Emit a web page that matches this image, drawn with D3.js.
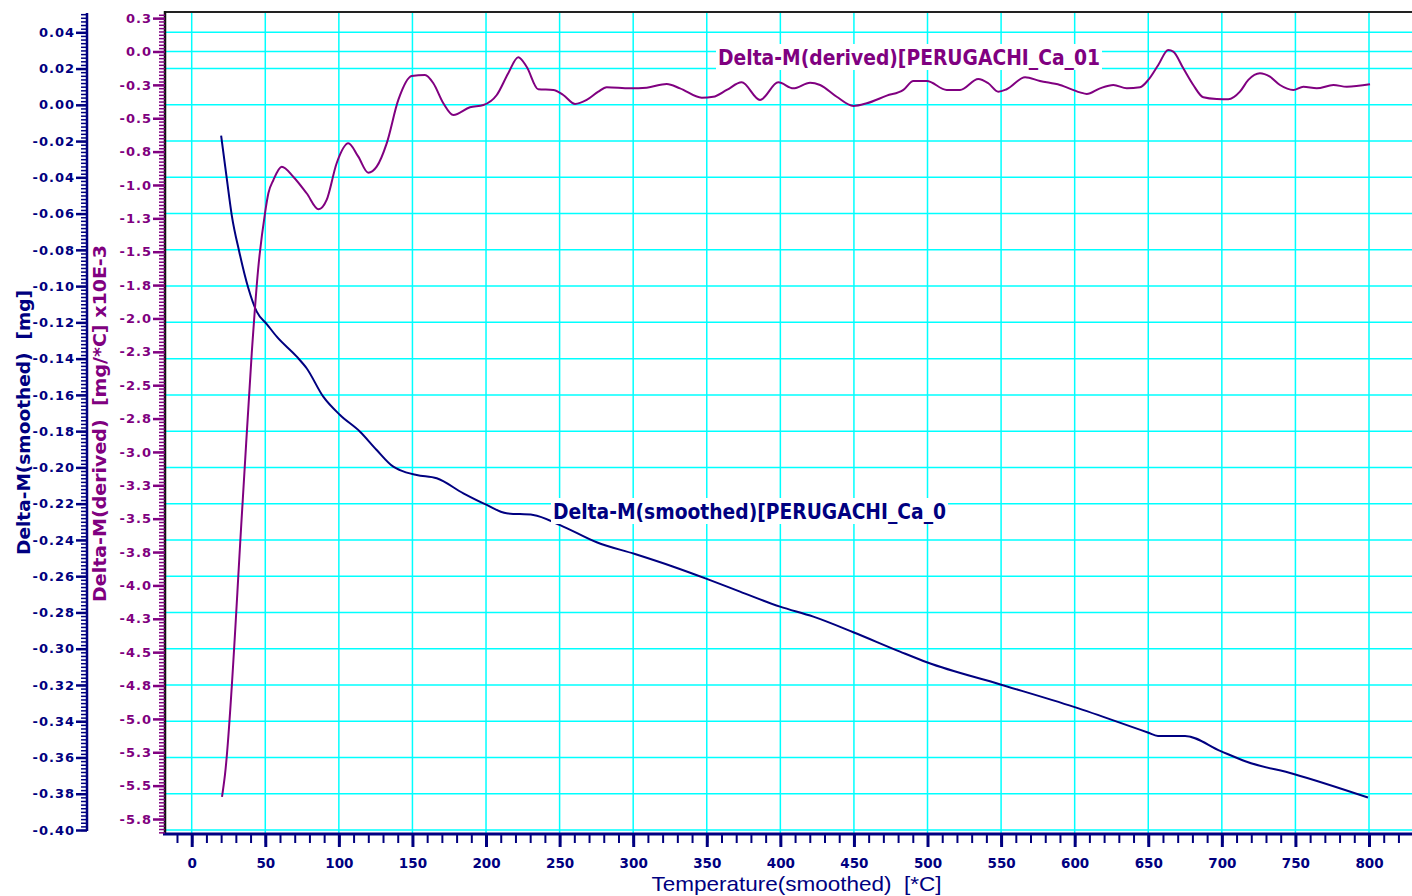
<!DOCTYPE html>
<html>
<head>
<meta charset="utf-8">
<script src="https://cdn.jsdelivr.net/npm/d3@7"></script>
<style>
  body { margin: 0; background: #fff; }
  svg { display: block; }
  text.pre { white-space: pre; }
</style>
</head>
<body>
<div id="chart"></div>
<script>
// Delta-M(smoothed) [mg] against temperature
const tempSmoothed = [20, 23.8, 27.2, 32.3, 38.5, 44.2, 51, 57.8, 71.4, 78.1, 89.4, 100.8, 114.4, 125.7, 137, 141.5, 152.9, 166.5, 184.6, 200.5, 214, 232.1, 250.3, 275.2, 301.2, 327.3, 350, 372.6, 399.8, 422.4, 449.6, 481.3, 500, 549.5, 599.5, 649.7, 656.6, 675, 699.2, 716.4, 748.8, 799.3];
const massSmoothed = [-0.0170, -0.0405, -0.0608, -0.0810, -0.1012, -0.1141, -0.1209, -0.1279, -0.1389, -0.1453, -0.1610, -0.1711, -0.1803, -0.1904, -0.1996, -0.2015, -0.2042, -0.2060, -0.2143, -0.2207, -0.2253, -0.2262, -0.2318, -0.2413, -0.2478, -0.2548, -0.2615, -0.2685, -0.2768, -0.2823, -0.2909, -0.3016, -0.3076, -0.3197, -0.3321, -0.3462, -0.3481, -0.3481, -0.3565, -0.3622, -0.3691, -0.3821];

// Delta-M(derived) [mg/*C] x10E-3 against temperature
const tempDerived = [20.6, 22.6, 34.7, 40.8, 45.1, 49.8, 52.1, 55.5, 61.2, 69.0, 78.1, 86.2, 91.7, 98.5, 106.4, 113.2, 120.0, 125.7, 132.5, 140.4, 149.5, 158.5, 164.2, 171.0, 177.8, 189.1, 198.2, 207.3, 215.1, 221.9, 227.6, 235.5, 245.7, 252.5, 260.5, 268.4, 276.3, 282.0, 297.8, 309.2, 322.8, 331.8, 346.6, 354.4, 363.6, 373.7, 386.2, 398.6, 408.8, 420.2, 427.0, 438.3, 449.6, 458.7, 472.3, 483.6, 490.4, 499.5, 513.1, 522.1, 534.5, 541.3, 548.1, 553.8, 566.3, 576.4, 590.0, 603.6, 608.2, 617.2, 626.3, 635.4, 644.4, 650.0, 656.8, 663.6, 667.0, 673.8, 680.6, 687.4, 696.5, 704.4, 712.3, 718.0, 725.9, 732.7, 739.5, 748.6, 755.4, 764.5, 775.8, 784.9, 800.7];
const massDerived = [-5.584, -5.419, -3.360, -2.261, -1.637, -1.212, -1.062, -0.963, -0.863, -0.938, -1.062, -1.182, -1.112, -0.837, -0.688, -0.788, -0.908, -0.863, -0.688, -0.363, -0.184, -0.176, -0.238, -0.388, -0.476, -0.418, -0.401, -0.326, -0.163, -0.043, -0.114, -0.283, -0.288, -0.326, -0.393, -0.363, -0.301, -0.268, -0.276, -0.271, -0.243, -0.276, -0.346, -0.339, -0.288, -0.231, -0.363, -0.231, -0.276, -0.234, -0.251, -0.339, -0.408, -0.388, -0.331, -0.288, -0.221, -0.221, -0.288, -0.288, -0.206, -0.238, -0.301, -0.283, -0.193, -0.221, -0.251, -0.306, -0.318, -0.276, -0.251, -0.276, -0.268, -0.213, -0.101, 0.011, -0.001, -0.126, -0.251, -0.343, -0.356, -0.358, -0.301, -0.213, -0.163, -0.189, -0.251, -0.288, -0.264, -0.276, -0.251, -0.264, -0.246];

// Tick values and labels
const xTicks = [0, 50, 100, 150, 200, 250, 300, 350, 400, 450, 500, 550, 600, 650, 700, 750, 800];
const leftTicks = [0.04, 0.02, 0.00, -0.02, -0.04, -0.06, -0.08, -0.10, -0.12, -0.14, -0.16, -0.18, -0.20, -0.22, -0.24, -0.26, -0.28, -0.30, -0.32, -0.34, -0.36, -0.38, -0.40];
const rightTicks = [0.25, 0, -0.25, -0.5, -0.75, -1, -1.25, -1.5, -1.75, -2, -2.25, -2.5, -2.75, -3, -3.25, -3.5, -3.75, -4, -4.25, -4.5, -4.75, -5, -5.25, -5.5, -5.75];
const rightTickLabels = ["0.3", "0.0", "-0.3", "-0.5", "-0.8", "-1.0", "-1.3", "-1.5", "-1.8", "-2.0", "-2.3", "-2.5", "-2.8", "-3.0", "-3.3", "-3.5", "-3.8", "-4.0", "-4.3", "-4.5", "-4.8", "-5.0", "-5.3", "-5.5", "-5.8"];

const width = 1412;
const height = 896;
const plot = { left: 165, top: 12, right: 1412, bottom: 834 };

const NAVY = "#000080";
const PURPLE = "#800080";
const CYAN = "#00ffff";
const FONT = "'DejaVu Sans', Verdana, sans-serif";

// Scales
const x = d3.scaleLinear().domain([0, 800]).range([191.7, 1369]);
const yL = d3.scaleLinear().domain([-0.40, 0.04]).range([830, 32.3]);
const yR = d3.scaleLinear().domain([-5.75, 0]).range([819, 51.5]);

const svg = d3.select("#chart").append("svg")
  .attr("width", width)
  .attr("height", height);

svg.append("rect").attr("width", width).attr("height", height).attr("fill", "#fff");

// Grid: vertical lines on x ticks, horizontal lines on left ticks plus the derived zero line
const grid = svg.append("g").attr("stroke", CYAN).attr("stroke-width", 1.5);
grid.selectAll(".gx").data(xTicks).join("line")
  .attr("x1", d => x(d)).attr("x2", d => x(d))
  .attr("y1", plot.top).attr("y2", plot.bottom);
grid.selectAll(".gy").data(leftTicks).join("line")
  .attr("x1", plot.left).attr("x2", plot.right)
  .attr("y1", d => yL(d)).attr("y2", d => yL(d));
grid.append("line")
  .attr("x1", plot.left).attr("x2", plot.right)
  .attr("y1", yR(0)).attr("y2", yR(0));

// Curves
const smoothedData = tempSmoothed.map((t, i) => [t, massSmoothed[i]]);
const derivedData = tempDerived.map((t, i) => [t, massDerived[i]]);

svg.append("path")
  .datum(smoothedData)
  .attr("fill", "none")
  .attr("stroke", NAVY)
  .attr("stroke-width", 2)
  .attr("d", d3.line().x(d => x(d[0])).y(d => yL(d[1])).curve(d3.curveMonotoneX));

svg.append("path")
  .datum(derivedData)
  .attr("fill", "none")
  .attr("stroke", PURPLE)
  .attr("stroke-width", 2)
  .attr("d", d3.line().x(d => x(d[0])).y(d => yR(d[1])).curve(d3.curveMonotoneX));

// Series labels with white boxes
function seriesLabel(text, tx, ty, len, color) {
  svg.append("rect")
    .attr("x", tx - 2).attr("y", ty - 21)
    .attr("width", len + 4).attr("height", 26)
    .attr("fill", "#fff");
  svg.append("text")
    .attr("x", tx).attr("y", ty)
    .attr("fill", color)
    .attr("font-family", FONT)
    .attr("font-weight", "bold")
    .attr("font-size", 21)
    .attr("textLength", len)
    .attr("lengthAdjust", "spacingAndGlyphs")
    .text(text);
}
seriesLabel("Delta-M(derived)[PERUGACHI_Ca_01", 718, 65, 382, PURPLE);
seriesLabel("Delta-M(smoothed)[PERUGACHI_Ca_0", 553, 519, 393, NAVY);

// Plot frame
svg.append("line").attr("x1", plot.left).attr("x2", plot.right)
  .attr("y1", plot.top).attr("y2", plot.top)
  .attr("stroke", "#222").attr("stroke-width", 2);
svg.append("line").attr("x1", plot.left).attr("x2", plot.left)
  .attr("y1", plot.top - 1).attr("y2", plot.bottom)
  .attr("stroke", "#111").attr("stroke-width", 2.5);

// Helper to style axis text
function styleText(g, color, size, spacing) {
  g.selectAll("text")
    .attr("fill", color)
    .attr("font-family", FONT)
    .attr("font-weight", "bold")
    .attr("font-size", size)
    .attr("letter-spacing", spacing);
}

// Bottom axis (temperature)
const xMinor = d3.range(-10, 830, 10);
svg.append("g")
  .attr("transform", `translate(0,${plot.bottom})`)
  .call(d3.axisBottom(x).tickValues(xMinor).tickSize(9).tickFormat(""))
  .call(g => g.select(".domain").remove())
  .call(g => g.selectAll("line").attr("stroke", NAVY).attr("stroke-width", 2));
svg.append("g")
  .attr("transform", `translate(0,${plot.bottom})`)
  .call(d3.axisBottom(x).tickValues(xTicks).tickSize(13).tickFormat(d3.format("d")))
  .call(g => g.select(".domain").remove())
  .call(g => g.selectAll("line").attr("stroke", NAVY).attr("stroke-width", 3))
  .call(g => g.selectAll("text").attr("y", 34).attr("dy", 0))
  .call(g => styleText(g, NAVY, 13.5, 0));
svg.append("line").attr("x1", plot.left - 2).attr("x2", plot.right)
  .attr("y1", plot.bottom).attr("y2", plot.bottom)
  .attr("stroke", NAVY).attr("stroke-width", 3);

// Left axis (smoothed, mg)
const leftX = 87;
const leftMinor = d3.range(-0.40, 0.0505, 0.002);
svg.append("g")
  .attr("transform", `translate(${leftX},0)`)
  .call(d3.axisLeft(yL).tickValues(leftMinor).tickSize(6).tickFormat(""))
  .call(g => g.select(".domain").remove())
  .call(g => g.selectAll("line").attr("stroke", NAVY).attr("stroke-width", 1.5));
svg.append("g")
  .attr("transform", `translate(${leftX},0)`)
  .call(d3.axisLeft(yL).tickValues(leftTicks).tickSize(11).tickPadding(1).tickFormat(d => d.toFixed(2)))
  .call(g => g.select(".domain").remove())
  .call(g => g.selectAll("line").attr("stroke", NAVY).attr("stroke-width", 2.5))
  .call(g => styleText(g, NAVY, 13, 1));
svg.append("line").attr("x1", leftX).attr("x2", leftX)
  .attr("y1", 13).attr("y2", yL(-0.40) + 1)
  .attr("stroke", NAVY).attr("stroke-width", 2.5);

// Right-hand scale drawn on the plot's left edge (derived)
const rightMinor = d3.range(-5.85, 0.29, 0.025);
svg.append("g")
  .attr("transform", `translate(${plot.left},0)`)
  .call(d3.axisLeft(yR).tickValues(rightMinor).tickSize(6).tickFormat(""))
  .call(g => g.select(".domain").remove())
  .call(g => g.selectAll("line").attr("stroke", PURPLE).attr("stroke-width", 1.5));
svg.append("g")
  .attr("transform", `translate(${plot.left},0)`)
  .call(d3.axisLeft(yR).tickValues(rightTicks).tickSize(12).tickPadding(1).tickFormat((d, i) => rightTickLabels[i]))
  .call(g => g.select(".domain").remove())
  .call(g => g.selectAll("line").attr("stroke", PURPLE).attr("stroke-width", 2.5))
  .call(g => styleText(g, PURPLE, 13, 1));

// Axis titles
svg.append("text")
  .attr("class", "pre")
  .attr("transform", "translate(29.5,422.5) rotate(-90)")
  .attr("text-anchor", "middle")
  .attr("fill", NAVY)
  .attr("font-family", FONT)
  .attr("font-weight", "bold")
  .attr("font-size", 17)
  .attr("textLength", 265)
  .attr("lengthAdjust", "spacingAndGlyphs")
  .text("Delta-M(smoothed)  [mg]");

svg.append("text")
  .attr("class", "pre")
  .attr("transform", "translate(105.5,423.5) rotate(-90)")
  .attr("text-anchor", "middle")
  .attr("fill", PURPLE)
  .attr("font-family", FONT)
  .attr("font-weight", "bold")
  .attr("font-size", 17)
  .attr("textLength", 357)
  .attr("lengthAdjust", "spacingAndGlyphs")
  .text("Delta-M(derived)  [mg/*C] x10E-3");

svg.append("text")
  .attr("class", "pre")
  .attr("x", 796.5).attr("y", 891)
  .attr("text-anchor", "middle")
  .attr("fill", NAVY)
  .attr("font-family", "'Liberation Sans Narrow', 'Arial Narrow', 'Liberation Sans', sans-serif")
  .attr("font-size", 21)
  .attr("textLength", 290)
  .attr("lengthAdjust", "spacingAndGlyphs")
  .text("Temperature(smoothed)  [*C]");
</script>
</body>
</html>
